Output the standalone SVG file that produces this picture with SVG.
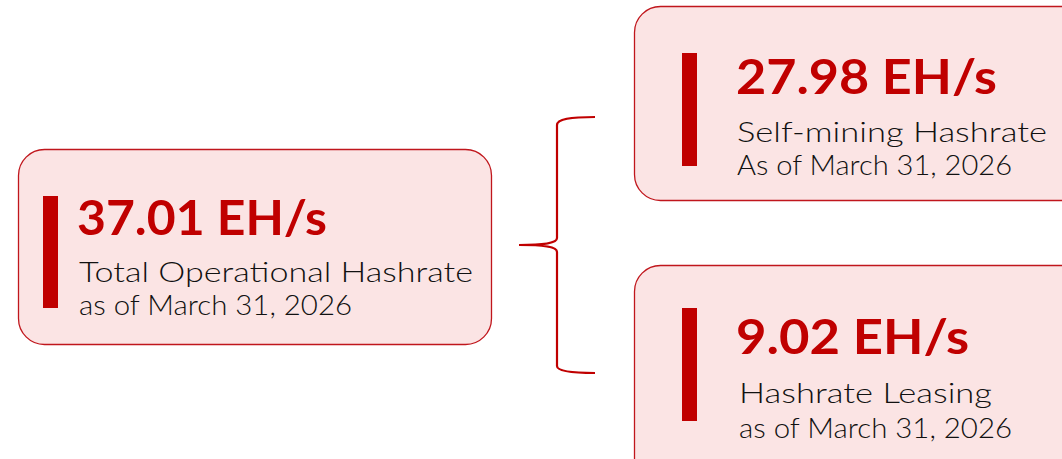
<svg xmlns="http://www.w3.org/2000/svg" width="1062" height="459" viewBox="0 0 1062 459">
<style>
.box{fill:#fbe4e4;stroke:#c0161c;stroke-width:1.3}
.bar{fill:#c00000}
.big{font-family:Lato,"Open Sans","Liberation Sans",sans-serif;font-weight:700;font-size:47px;fill:#c00000}
.sub{font-family:Lato,"Open Sans","Liberation Sans",sans-serif;font-weight:300;font-size:27px;fill:#111}
.conn{fill:none;stroke:#c00000;stroke-width:2.2}
</style>
<rect width="1062" height="459" fill="#fff"/>
<g id="total">
<rect class="box" x="18.5" y="149.5" width="473" height="195" rx="26"/>
<rect class="bar" x="43" y="196" width="15" height="112"/>
<text class="big" x="77" y="235" textLength="250" lengthAdjust="spacingAndGlyphs">37.01 EH/s</text>
<text class="sub" x="79" y="282" textLength="394" lengthAdjust="spacingAndGlyphs">Total Operational Hashrate</text>
<text class="sub" x="79" y="315" textLength="273" lengthAdjust="spacingAndGlyphs">as of March 31, 2026</text>
</g>
<g id="selfmining">
<rect class="box" x="634.5" y="6.5" width="460" height="194" rx="26"/>
<rect class="bar" x="682" y="53" width="15" height="113"/>
<text class="big" x="736" y="94" textLength="261" lengthAdjust="spacingAndGlyphs">27.98 EH/s</text>
<text class="sub" x="737" y="142" textLength="310" lengthAdjust="spacingAndGlyphs">Self-mining Hashrate</text>
<text class="sub" x="737" y="175" textLength="275" lengthAdjust="spacingAndGlyphs">As of March 31, 2026</text>
</g>
<g id="leasing">
<rect class="box" x="634.5" y="265.5" width="460" height="220" rx="26"/>
<rect class="bar" x="682" y="308" width="15" height="113"/>
<text class="big" x="736" y="354" textLength="233" lengthAdjust="spacingAndGlyphs">9.02 EH/s</text>
<text class="sub" x="739" y="403" textLength="253" lengthAdjust="spacingAndGlyphs">Hashrate Leasing</text>
<text class="sub" x="739" y="438" textLength="273" lengthAdjust="spacingAndGlyphs">as of March 31, 2026</text>
</g>
<g id="connectors">
<path class="conn" d="M595,117 C570,117 557,119 557,125 L557,238 C557,243 545,245 519,245 C545,245 557,247 557,252 L557,366 C557,371 570,373 595,373"/>
</g>
</svg>
